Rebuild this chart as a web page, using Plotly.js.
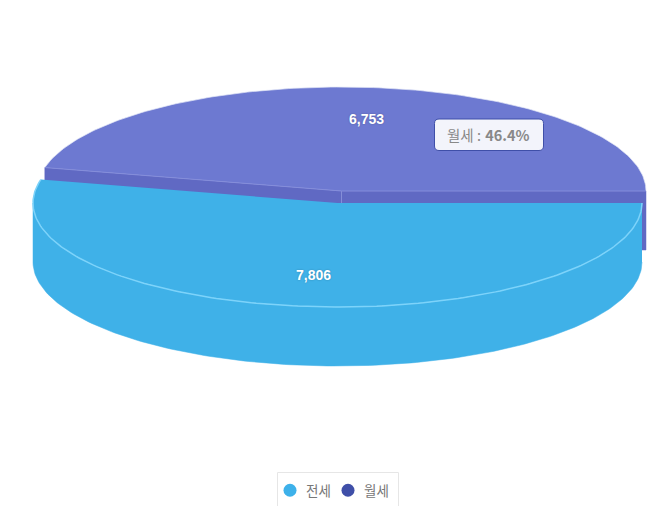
<!DOCTYPE html>
<html><head><meta charset="utf-8">
<script src="https://cdn.plot.ly/plotly-3.0.1.min.js"></script>
<style>html,body{margin:0;padding:0;background:#fff;overflow:hidden}</style></head>
<body><div id="chart" style="width:654px;height:506px"></div>
<script>
const categories = ["전세", "월세"];
const values = [7806, 6753];
const legendColors = ["#3db1ea", "#3f4fa8"];

const blue = {top:"#3fb1e8", wall:"#3fb1e8", edge:"#7dd3fa"};
const purple = {top:"#6d79d1", wall:"#6069c3", edge:"#858edb"};
const RX = 304.5, RY = 104, DEPTH = 59;
const blueC = [337.5, 203], purpleC = [341.5, 191];

const total = values[0] + values[1];
const endAngle = 360 * values[0] / total;
const rad = d => d * Math.PI / 180;

function arc(c, a0, a1, dy) {
  const xs = [], ys = [];
  const n = Math.max(2, Math.ceil(Math.abs(a1 - a0)));
  for (let i = 0; i <= n; i++) {
    const a = rad(a0 + (a1 - a0) * i / n);
    xs.push(c[0] + RX * Math.cos(a));
    ys.push(c[1] + RY * Math.sin(a) + (dy || 0));
  }
  return [xs, ys];
}
function poly(xs, ys, fill, line, lw) {
  return {type:"scatter", mode:"lines", x:xs, y:ys, fill:"toself", fillcolor:fill,
    line:{color:line || fill, width:lw === undefined ? 0.5 : lw}, showlegend:false, hoverinfo:"skip"};
}
function stroke(xs, ys, color, w) {
  return {type:"scatter", mode:"lines", x:xs, y:ys, line:{color:color, width:w}, showlegend:false, hoverinfo:"skip"};
}

const traces = [];
// purple slice: walls then top
const pA = [purpleC[0] + RX * Math.cos(rad(endAngle)), purpleC[1] + RY * Math.sin(rad(endAngle))];
const pB = [purpleC[0] + RX, purpleC[1]];
traces.push(poly([purpleC[0], pA[0], pA[0], purpleC[0]], [purpleC[1], pA[1], pA[1] + DEPTH, purpleC[1] + DEPTH], purple.wall));
traces.push(poly([purpleC[0], pB[0], pB[0], purpleC[0]], [purpleC[1], pB[1], pB[1] + DEPTH, purpleC[1] + DEPTH], purple.wall));
const pTop = arc(purpleC, endAngle, 360);
traces.push(poly([purpleC[0], ...pTop[0], purpleC[0]], [purpleC[1], ...pTop[1], purpleC[1]], purple.top, purple.top, 0));
traces.push(stroke(pTop[0], pTop[1], "#e3e6f7", 0.7));
traces.push(stroke([pA[0], purpleC[0], pB[0]], [pA[1], purpleC[1], pB[1]], purple.edge, 1));
traces.push(stroke([purpleC[0], purpleC[0]], [purpleC[1], purpleC[1] + 13], purple.edge, 0.6));

// blue slice: outer wall then top
const bLow = arc(blueC, 0, Math.min(180, endAngle), DEPTH);
const bUp = arc(blueC, Math.min(180, endAngle), 0, 0);
traces.push(poly([...bLow[0], ...bUp[0]], [...bLow[1], ...bUp[1]], blue.wall));
const bTop = arc(blueC, 0, endAngle);
traces.push(poly([blueC[0], ...bTop[0], blueC[0]], [blueC[1], ...bTop[1], blueC[1]], blue.top, blue.top, 0));
traces.push(stroke(bTop[0], bTop[1], blue.edge, 1.5));

// legend entries
categories.forEach((name, i) => traces.push({
  type:"scatter", mode:"markers", x:[null], y:[null], name:name,
  marker:{color:legendColors[i], size:13, symbol:"circle"}
}));

const share = (values[1] / total * 100).toFixed(1);
const fmt = v => v.toLocaleString("en-US");
const labelFont = {family:"'Liberation Sans', Arial, sans-serif", size:14, color:"#fff", weight:700,
  shadow:"0 0 2px rgba(0,0,0,.25)"};

const layout = {
  width:654, height:506, margin:{l:0,r:0,t:0,b:0,autoexpand:false},
  paper_bgcolor:"#fff", plot_bgcolor:"#fff",
  xaxis:{range:[0,654], visible:false, fixedrange:true},
  yaxis:{range:[506,0], visible:false, fixedrange:true},
  font:{family:"'Noto Sans CJK KR','Liberation Sans',sans-serif", color:"#777", size:14},
  showlegend:true,
  legend:{x:270/654, y:1-475/506, xanchor:"left", yanchor:"top", orientation:"h",
    bgcolor:"rgba(0,0,0,0)", borderwidth:0, itemclick:false, itemdoubleclick:false,
    font:{size:13.5, color:"#777"}, itemwidth:30, traceorder:"normal",
    entrywidth:13, entrywidthmode:"pixels"},
  shapes:[
    {type:"path", layer:"above", xref:"x", yref:"y",
     path:"M 277.5 506 L 277.5 472.5 L 398.5 472.5 L 398.5 506", line:{color:"#e6e6e6", width:1}},
    {type:"path", layer:"above", xref:"x", yref:"y",
     path:"M 439 119 L 539 119 Q 543.5 119 543.5 123.5 L 543.5 146 Q 543.5 150.5 539 150.5 L 439 150.5 Q 434.5 150.5 434.5 146 L 434.5 123.5 Q 434.5 119 439 119 Z",
     fillcolor:"#f3f4fb", line:{color:"#3f4fa8", width:1}}
  ],
  annotations:[
    {x:313.5, y:274.5, xref:"x", yref:"y", text:"<b>"+fmt(values[0])+"</b>", showarrow:false, font:labelFont},
    {x:366, y:118.5, xref:"x", yref:"y", text:"<b>"+fmt(values[1])+"</b>", showarrow:false, font:labelFont},
    {x:488.5, y:134.5, xref:"x", yref:"y", showarrow:false,
     text:categories[1]+"\u00a0:\u00a0\u200a<b>"+share+"%</b>",
     font:{family:"'Noto Sans CJK KR','Liberation Sans',sans-serif", size:14.5, color:"#888888"}}
  ]
};
Plotly.newPlot("chart", traces, layout, {staticPlot:true, displayModeBar:false}).then(gd => {
  gd.querySelectorAll(".legendtext").forEach(t => {
    t.setAttribute("x", parseFloat(t.getAttribute("x")) - 4);
  });
  gd.querySelectorAll(".legend .scrollbox, .legend .traces").forEach(g => g.removeAttribute("clip-path"));
  gd.querySelectorAll(".legend [clip-path]").forEach(g => g.removeAttribute("clip-path"));
});
</script></body></html>
